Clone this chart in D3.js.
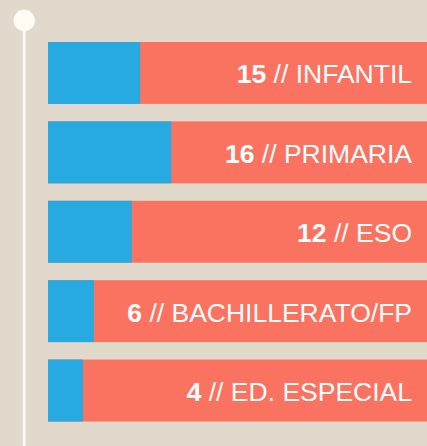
<!DOCTYPE html>
<html><head><meta charset="utf-8">
<script src="https://cdn.jsdelivr.net/npm/d3@7"></script>
<style>html,body{margin:0;padding:0;background:#e2d9cd;}svg{display:block;}</style>
</head><body>
<script>
const categories = ["INFANTIL", "PRIMARIA", "ESO", "BACHILLERATO/FP", "ED. ESPECIAL"];
const counts = [15, 16, 12, 6, 4];
const bluePct = [24.3, 32.5, 22.1, 12.1, 9.2];
const totalPct = [100, 100, 100, 100, 100];

const W = 427, H = 446;
const svg = d3.select("body").append("svg").attr("width", W).attr("height", H);
svg.append("rect").attr("width", W).attr("height", H).attr("fill", "#e2d9cd");

const y = d3.scaleBand().domain(categories).range([42, 421.5]).paddingInner(0.22).paddingOuter(0);
const x = d3.scaleLinear().domain([0, 100]).range([48, 427]);

svg.append("line").attr("x1", 24.2).attr("x2", 24.2).attr("y1", 20).attr("y2", H)
  .attr("stroke", "#fffdf3").attr("stroke-width", 2.6);
svg.append("circle").attr("cx", 24.2).attr("cy", 20.5).attr("r", 10.7).attr("fill", "#fffdf3");

const g = svg.selectAll("g.bar").data(categories).enter().append("g").attr("class", "bar");
g.append("rect").attr("x", x(0)).attr("y", d => y(d)).attr("height", y.bandwidth())
  .attr("width", (d, i) => x(totalPct[i]) - x(0)).attr("fill", "#fa7260");
g.append("rect").attr("x", x(0)).attr("y", d => y(d)).attr("height", y.bandwidth())
  .attr("width", (d, i) => x(bluePct[i]) - x(0)).attr("fill", "#27a9e1");
const t = g.append("text").attr("x", 412).attr("y", d => y(d) + y.bandwidth() / 2 + 10.5)
  .attr("text-anchor", "end").attr("fill", "#ffffff")
  .style("font-family", "'Liberation Sans', Arial, sans-serif").style("font-size", "26.5px");
t.append("tspan").attr("font-weight", "bold").text((d, i) => counts[i]);
t.append("tspan").text(d => " // " + d);
</script>
</body></html>
